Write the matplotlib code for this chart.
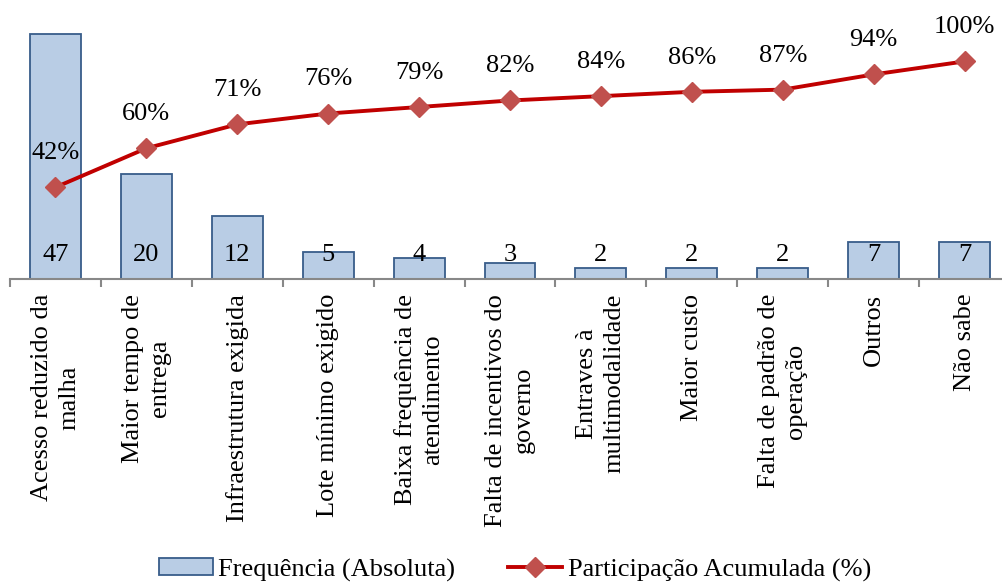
import matplotlib.pyplot as plt
from matplotlib.lines import Line2D
from matplotlib.patches import Patch

plt.rcParams['font.family'] = ['Liberation Serif', 'DejaVu Serif']

categorias = ['Acesso reduzido da\nmalha', 'Maior tempo de\nentrega',
              'Infraestrutura exigida', 'Lote mínimo exigido',
              'Baixa frequência de\natendimento', 'Falta de incentivos do\ngoverno',
              'Entraves à\nmultimodalidade', 'Maior custo',
              'Falta de padrão de\noperação', 'Outros', 'Não sabe']
frequencia = [47, 20, 12, 5, 4, 3, 2, 2, 2, 7, 7]
acumulada = [42, 60, 71, 76, 79, 82, 84, 86, 87, 94, 100]

cor_barra = '#B9CDE5'
cor_borda = '#385D8A'
cor_linha = '#C00000'
cor_marca = '#C0504D'
fs = 19

fig = plt.figure(figsize=(10.03, 5.83), dpi=100)
ax = fig.add_axes([10 / 1003, 304.5 / 583, 1000 / 1003, 260.5 / 583])

x = list(range(len(categorias)))
ax.bar(x, frequencia, width=0.56, color=cor_barra, edgecolor=cor_borda, linewidth=1.3)
for i, v in zip(x, frequencia):
    ax.annotate(str(v), (i, 0), xytext=(0, 17), textcoords='offset points',
                ha='center', va='center', fontsize=fs)

ax.set_xlim(-0.5, len(categorias) - 0.5)
ax.set_ylim(0, 50)
ax.set_yticks([])
for s in ['left', 'right', 'top']:
    ax.spines[s].set_visible(False)
ax.spines['bottom'].set_color('#888888')
ax.spines['bottom'].set_linewidth(1.5)
ax.set_xticks(x)
ax.set_xticklabels(categorias, rotation=90, fontsize=fs, ha='center',
                   va='top', multialignment='center', linespacing=1.3)
ax.tick_params(axis='x', which='major', length=0, pad=11)
ax.set_xticks([i - 0.5 for i in range(len(categorias) + 1)], minor=True)
ax.tick_params(axis='x', which='minor', length=6, width=1.5, color='#888888')

# eixo secundário para a participação acumulada
ax2 = ax.twinx()
ax2.plot(x, acumulada, color=cor_linha, linewidth=2.8, marker='D', markersize=10,
         markerfacecolor=cor_marca, markeredgecolor=cor_marca)
for i, v in zip(x, acumulada):
    ax2.annotate(f'{v}%', (i, v), xytext=(0, 24.5), textcoords='offset points',
                 ha='center', va='center', fontsize=fs)
ax2.set_ylim(0, 120)
ax2.set_yticks([])
for s in ax2.spines.values():
    s.set_visible(False)

handles = [Patch(facecolor=cor_barra, edgecolor=cor_borda, linewidth=1.3),
           Line2D([], [], color=cor_linha, linewidth=2.8, marker='D', markersize=10,
                  markerfacecolor=cor_marca, markeredgecolor=cor_marca)]
fig.legend(handles, ['Frequência (Absoluta)', 'Participação Acumulada (%)'],
           loc='center', bbox_to_anchor=(515 / 1003, 13 / 583), ncol=2,
           frameon=False, fontsize=fs, handlelength=2.05, handleheight=0.6,
           handletextpad=0.2, columnspacing=2.0, borderpad=0)

fig.savefig('out.png', dpi=100)
